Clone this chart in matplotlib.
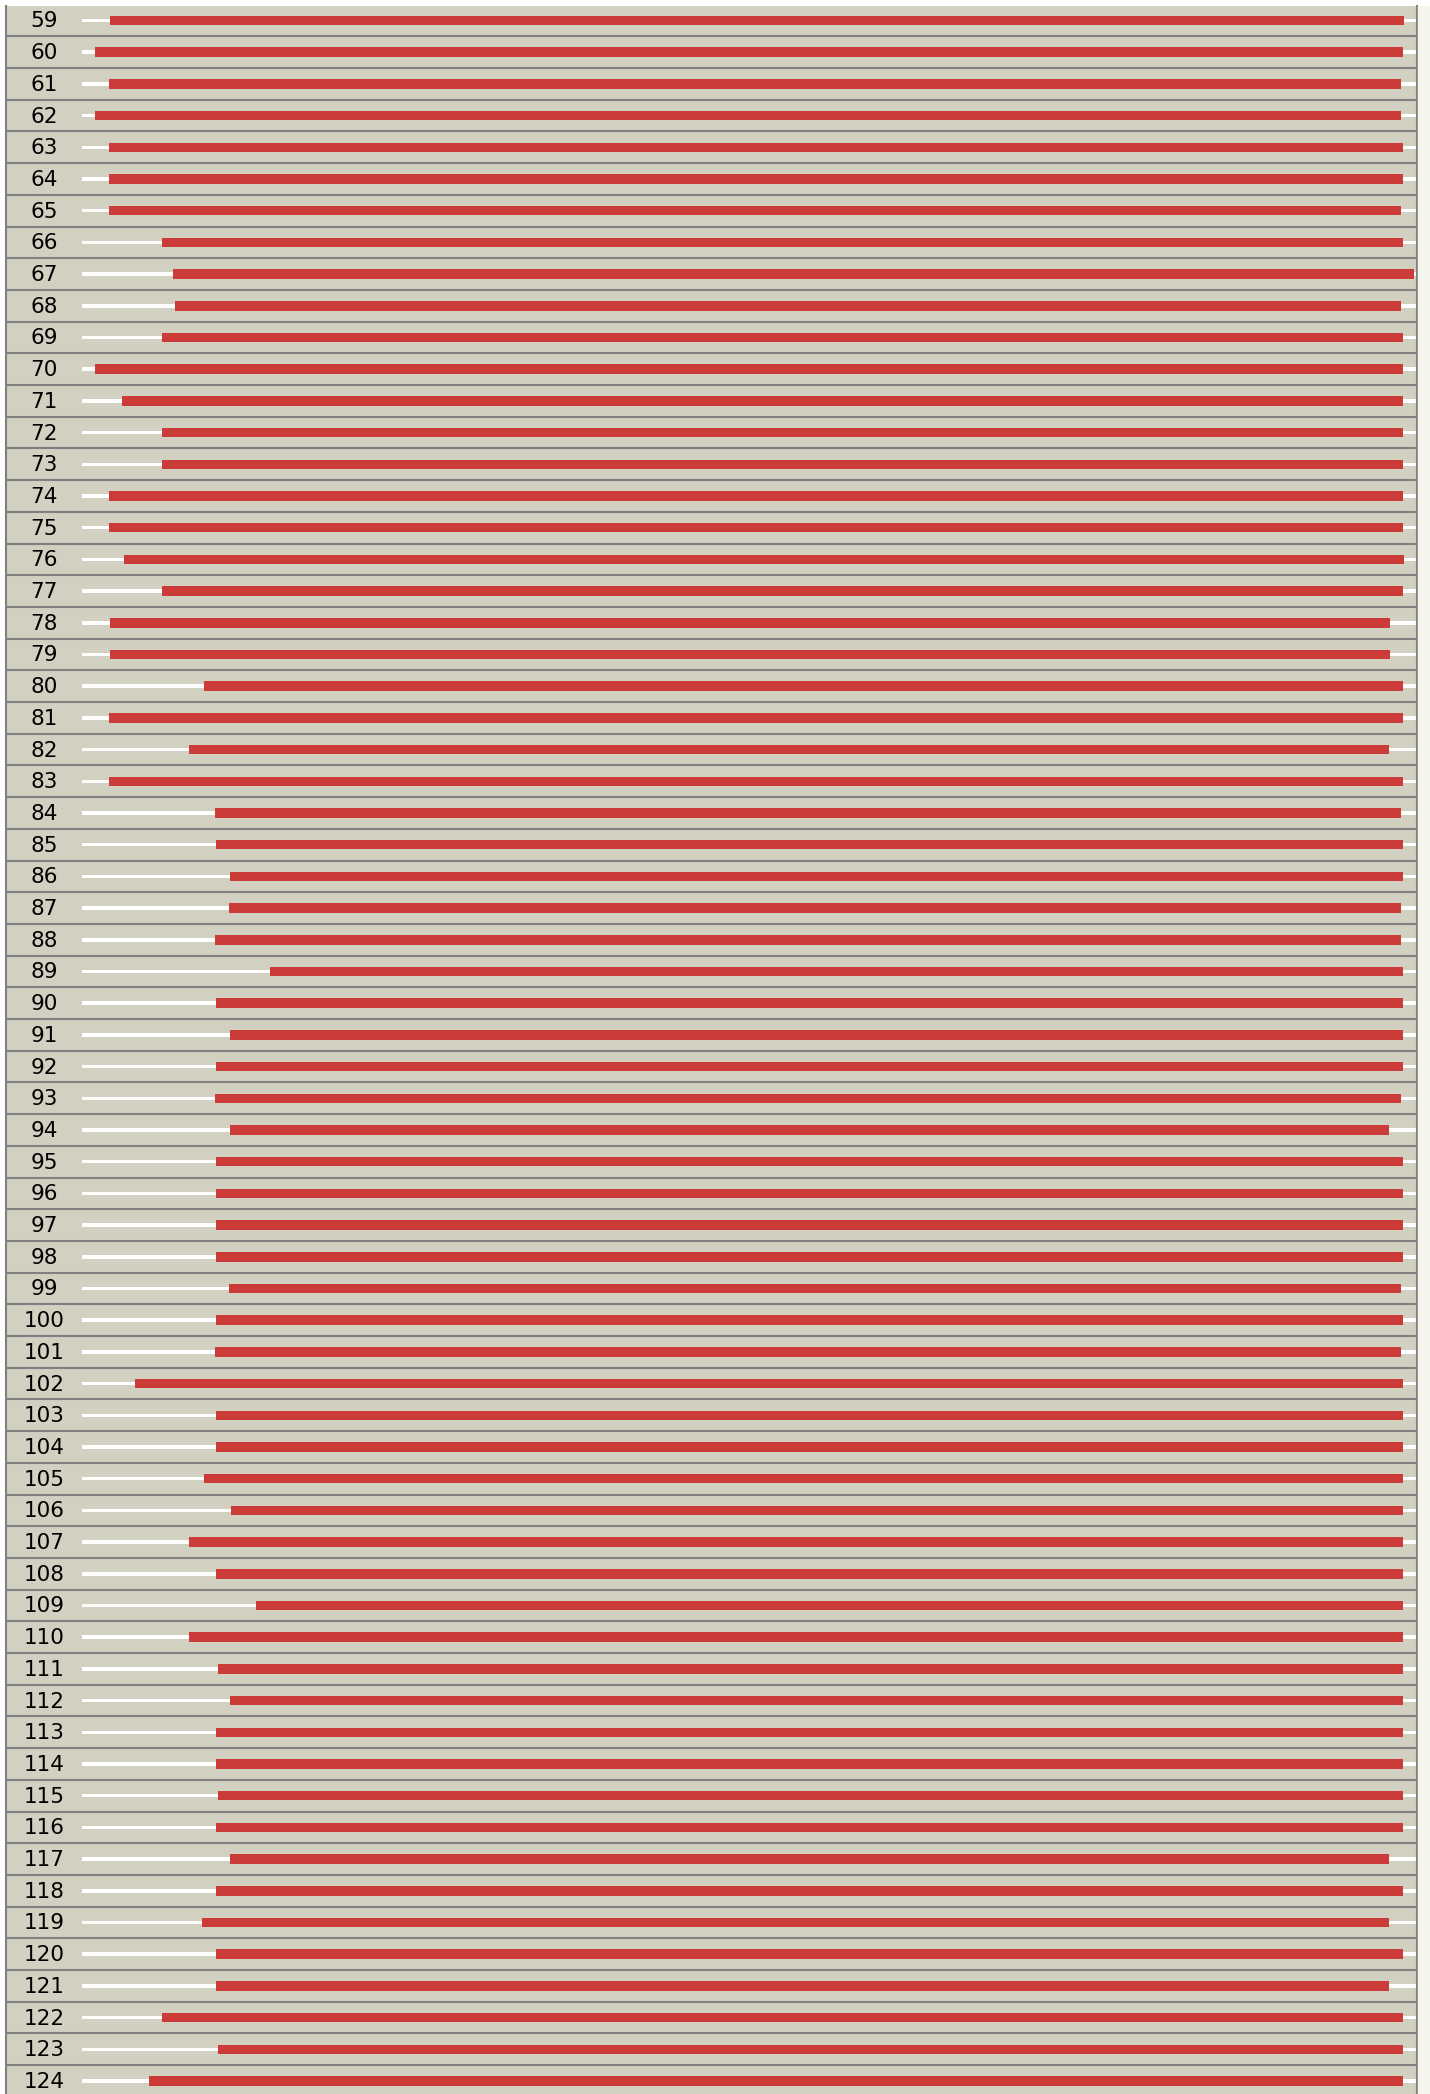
import numpy as np
import matplotlib.pyplot as plt
from matplotlib.patches import Rectangle

# row labels (positions 59..124)
rows = list(range(59, 125))

# full length of every row (white guide line)
seq_len = 1334

# red segment start / end for each row
starts = [28, 13, 27, 13, 27, 27, 27, 80, 91, 93,
          80, 13, 40, 80, 80, 27, 27, 42, 80, 28,
          28, 122, 27, 107, 27, 133, 134, 148, 147, 133,
          188, 134, 148, 134, 133, 148, 134, 134, 134, 134,
          147, 134, 133, 53, 134, 134, 122, 149, 107, 134,
          174, 107, 136, 148, 134, 134, 136, 134, 148, 134,
          120, 134, 134, 80, 136, 67]
ends = [1322, 1321, 1319, 1319, 1321, 1321, 1319, 1321, 1332, 1319,
        1321, 1321, 1321, 1321, 1321, 1321, 1321, 1322, 1321, 1308,
        1308, 1321, 1321, 1307, 1321, 1319, 1321, 1321, 1319, 1319,
        1321, 1321, 1321, 1321, 1319, 1307, 1321, 1321, 1321, 1321,
        1319, 1321, 1319, 1321, 1321, 1321, 1321, 1321, 1321, 1321,
        1321, 1321, 1321, 1321, 1321, 1321, 1321, 1321, 1307, 1321,
        1307, 1321, 1307, 1321, 1321, 1321]

bg = '#d2d0c1'
red = '#cb3b38'
grid = '#808080'

W, H = 1430, 2094
fig = plt.figure(figsize=(W / 100, H / 100), dpi=100, facecolor='white')
# light strip right of the panel
fig.patches.append(Rectangle((1418 / W, 0), 12 / W, 1 - 6 / H,
                             transform=fig.transFigure, color='#f5f5ee', zorder=0))

ax = fig.add_axes([6 / W, 0, 1411 / W, (H - 6) / H])
ax.set_facecolor(bg)

y = np.arange(len(rows))
starts = np.array(starts)
ends = np.array(ends)

ax.barh(y, seq_len, left=0, height=0.11, color='white', zorder=2)
ax.barh(y, ends - starts, left=starts, height=0.3, color=red, zorder=3)

for k in y:
    ax.axhline(k + 0.5, color=grid, lw=1.5, zorder=1)

for k, r in zip(y, rows):
    ax.text(-38, k + 0.03, str(r), ha='center', va='center', fontsize=15.5, color='black')

ax.set_xlim(-76, 1335)
ax.set_ylim(65.41, -0.457)
ax.set_xticks([])
ax.set_yticks([])
for s in ['top', 'bottom']:
    ax.spines[s].set_visible(False)
for s in ['left', 'right']:
    ax.spines[s].set_color(grid)
    ax.spines[s].set_linewidth(1.5)

fig.savefig('out.png', dpi=100, facecolor=fig.get_facecolor())
